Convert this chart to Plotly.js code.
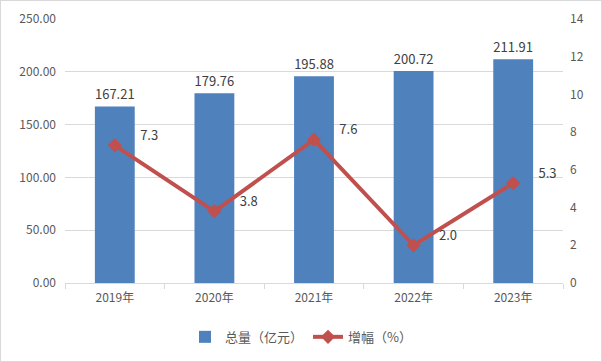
<!DOCTYPE html>
<html><head><meta charset="utf-8">
<script src="https://cdn.plot.ly/plotly-3.0.1.min.js"></script>
<style>
html,body{margin:0;padding:0;background:#fff;}
#chart{width:600px;height:360px;border:1px solid #d9d9d9;}
</style></head>
<body><div id="chart"></div>
<script>
const years = ['2019年','2020年','2021年','2022年','2023年'];
const totals = [167.21, 179.76, 195.88, 200.72, 211.91];
const growth = [7.3, 3.8, 7.6, 2.0, 5.3];
const barName = '总量（亿元）';
const lineName = '增幅（%）';

const font = {family: '"Noto Sans CJK SC", "Liberation Sans", sans-serif', size: 12, color: '#595959'};

const traces = [
  {type:'bar', x:years, y:totals, name:barName, marker:{color:'#4F81BD'},
   text: totals.map(v=>v.toFixed(2)), textposition:'outside', cliponaxis:false,
   textfont:{family:font.family, size:13, color:'#404040'}},
  {type:'scatter', mode:'lines+markers+text', x:years, y:growth, yaxis:'y2', name:lineName,
   line:{color:'#C0504D', width:4}, marker:{symbol:'diamond', size:11, color:'#C0504D'},
   text: growth.map(v=>'      ' + v.toFixed(1) + '<br> '), textposition:'middle right', cliponaxis:false,
   textfont:{family:font.family, size:13, color:'#404040'}}
];

const layout = {
  width:600, height:360,
  margin:{l:64, r:38, t:18, b:78},
  font: font,
  paper_bgcolor:'#fff', plot_bgcolor:'#fff',
  bargap:0.6,
  showlegend:true,
  legend:{orientation:'h', x:0.5, xanchor:'center', xref:'container', yref:'container', y:0.067, yanchor:'middle',
          font:{size:13, color:'#595959', family:font.family}},
  xaxis:{type:'category', showline:true, linecolor:'#d9d9d9', linewidth:1, ticks:'outside', tickson:'boundaries',
         ticklen:5, tickcolor:'#d9d9d9', tickfont:{size:12, color:'#595959'}, ticklabelstandoff:4},
  yaxis:{range:[0,250], dtick:50, tickformat:'.2f', showgrid:true, gridcolor:'#d9d9d9', zeroline:false,
         tickfont:{size:12, color:'#595959'}, ticks:'', ticklabelstandoff:8},
  yaxis2:{range:[0,14], dtick:2, overlaying:'y', side:'right', showgrid:false, zeroline:false,
          tickfont:{size:12, color:'#595959'}, ticklabelstandoff:6}
};

Plotly.newPlot('chart', traces, layout, {displayModeBar:false, staticPlot:true});
</script></body></html>
